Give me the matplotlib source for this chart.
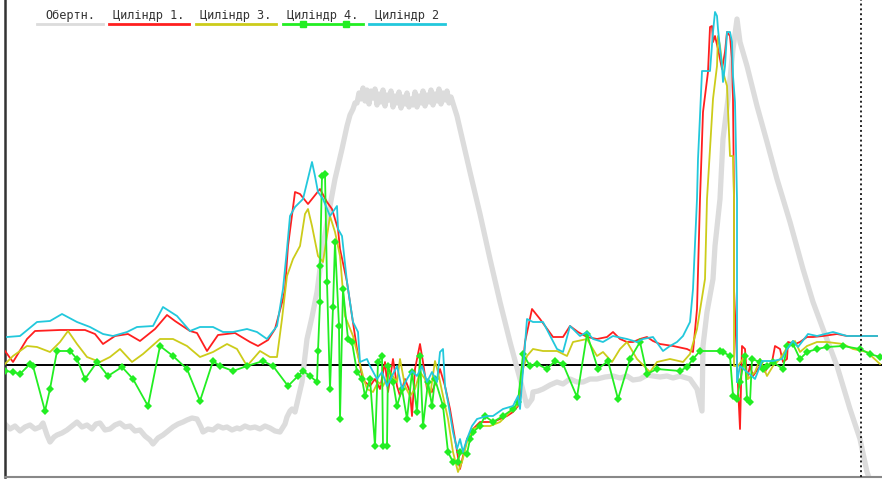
import matplotlib
matplotlib.use("Agg")
import matplotlib.pyplot as plt
from matplotlib.lines import Line2D

# engine speed trace (time sample, value)
rpm_t = [5, 10, 15, 20, 25, 30, 35, 40, 43, 47, 50, 54, 57, 62, 67, 72, 77, 82, 87, 92,
         96, 100, 105, 110, 115, 120, 125, 130, 135, 140, 145, 150, 153, 158, 163, 168, 173, 178, 183, 187,
         192, 197, 201, 203, 208, 213, 218, 223, 227, 232, 237, 240, 245, 250, 255, 260, 265, 270, 275, 280,
         285, 287, 290, 292, 295, 298, 302, 307, 312, 317, 323, 330, 335, 342, 347, 350, 353, 355,
         357, 359, 361, 363, 365, 367, 369, 371, 373, 375, 377, 379, 381, 383, 385, 387, 389, 391, 393, 395,
         397, 399, 401, 403, 405, 407, 409, 411, 413, 415, 417, 419, 421, 423, 425, 427, 429, 431, 433, 435,
         437, 439, 441, 443, 445, 447, 449, 451,
         457, 463, 470, 480, 490, 500, 510, 520, 527, 532, 533, 538, 543, 550, 557,
         563, 570, 577, 583, 590, 597, 605, 613, 620, 627, 633, 640, 647, 653, 660, 667, 673, 680, 690, 697,
         702, 703, 707, 713, 715, 720, 723, 728, 733, 737, 740, 747, 757, 767, 777, 790, 803, 813, 823, 837,
         850, 860, 867, 870]
rpm_v = [-59, -64, -61, -66, -62, -60, -64, -62, -58, -70, -77, -72, -70, -68, -65, -61, -57, -62, -60, -64,
         -59, -58, -65, -64, -60, -58, -62, -61, -66, -65, -71, -75, -79, -73, -70, -66, -62, -59, -57, -55,
         -53, -54, -62, -67, -64, -65, -61, -63, -62, -65, -63, -64, -61, -63, -62, -64, -61, -63, -66, -67,
         -59, -52, -46, -44, -47, -34, -17, 26, 48, 73, 119, 159, 186, 216, 239, 250, 256, 262,
         262, 272, 266, 277, 264, 275, 261, 274, 267, 276, 260, 271, 263, 275, 259, 270, 265, 274, 258, 269,
         262, 273, 257, 268, 261, 272, 258, 266, 260, 273, 258, 269, 262, 274, 259, 270, 263, 275, 260, 271,
         264, 276, 261, 272, 265, 274, 262, 268,
         249, 223, 193, 151, 106, 63, 23, -14, -41, -34, -27, -26, -24, -20, -17,
         -19, -14, -17, -17, -14, -14, -12, -11, -13, -11, -15, -14, -10, -11, -12, -11, -13, -11, -14, -24,
         -46, 19, 53, 86, 119, 166, 226, 266, 316, 346, 323, 299, 259, 223, 186, 143, 96, 63, 36, -1,
         -44, -74, -107, -115]

# cylinder 1
cyl1_t = [5, 13, 27, 35, 60, 85, 95, 103, 115, 128, 140, 155, 167, 175, 190, 197, 207, 218, 235, 250,
          258, 268, 275, 283, 285, 288, 295, 300, 308, 320, 327, 332, 338, 340, 347, 352, 357, 362, 365, 370,
          375, 380, 385, 388, 393, 397, 400, 405, 410, 412, 415, 420, 423, 427, 432, 437, 440, 445, 450, 455,
          460, 463, 467, 473, 480, 487, 493, 500, 507, 513, 518, 520, 525, 532, 540, 553, 563, 570, 578, 587,
          597, 607, 613, 620, 627, 633, 640, 647, 653, 660, 673, 687, 693, 697, 700, 703, 708, 710, 712, 713,
          715, 718, 722, 725, 727, 730, 732, 733, 734, 734, 738, 740, 742, 745, 747, 750, 753, 760, 765, 768,
          772, 775, 780, 783, 787, 788, 795, 800, 807, 813, 823, 837, 847, 860, 877]
cyl1_v = [14, 3, 26, 34, 35, 35, 31, 21, 29, 31, 24, 36, 50, 44, 34, 32, 14, 30, 32, 23,
          19, 25, 36, 66, 76, 119, 173, 171, 161, 176, 163, 156, 136, 116, 83, 49, 16, -11, -17, -21,
          -14, -24, 3, -27, 6, -21, -31, -14, -27, -51, -4, 21, 3, -24, -27, -14, -4, -21, -44, -74,
          -104, -91, -74, -64, -57, -57, -57, -54, -51, -47, -41, -34, 23, 56, 46, 28, 28, 39, 33, 28,
          26, 28, 33, 26, 23, 23, 26, 28, 24, 21, 19, 16, 13, 56, 166, 253, 293, 338, 339, 323,
          329, 316, 296, 313, 333, 329, 306, 266, 166, 76, -21, -64, 19, 16, -14, -1, -11, -1, -7, -1,
          3, 19, 16, 3, 6, 23, 21, 23, 28, 28, 29, 31, 29, 29, 29]

# cylinder 3
cyl3_t = [5, 13, 27, 37, 50, 60, 68, 77, 87, 100, 110, 120, 132, 143, 160, 173, 187, 200, 213, 227,
          237, 247, 260, 270, 277, 282, 287, 293, 300, 305, 308, 312, 318, 323, 327, 330, 335, 340, 345, 353,
          358, 363, 367, 373, 378, 383, 390, 397, 400, 405, 410, 415, 420, 425, 430, 435, 438, 443, 448, 453,
          458, 462, 467, 473, 480, 490, 500, 510, 517, 523, 527, 533, 543, 557, 567, 573, 587, 597, 603, 612,
          620, 627, 637, 650, 657, 670, 683, 690, 697, 705, 707, 710, 713, 717, 718, 720, 723, 727, 730, 733,
          734, 734, 738, 743, 748, 755, 760, 767, 773, 780, 788, 795, 800, 807, 817, 827, 843, 853, 867, 880]
cyl3_v = [1, 9, 19, 18, 13, 23, 34, 21, 8, 3, 8, 16, 3, 11, 26, 26, 19, 8, 13, 21,
          16, -1, 14, 8, 8, 46, 89, 106, 119, 151, 156, 139, 109, 103, 129, 149, 133, 109, 49, 29,
          9, -11, -24, -27, -17, -21, -7, -17, 6, -21, -31, -24, -7, -14, -31, 4, -7, -31, -54, -87,
          -107, -97, -77, -64, -61, -61, -57, -47, -41, -4, 9, 16, 14, 14, 9, 23, 26, 9, 13, 3,
          16, 23, 6, -7, 3, 6, 3, 11, 36, 86, 166, 216, 266, 299, 329, 319, 293, 279, 209, 209,
          166, -1, -1, 6, -14, -7, 6, -11, -1, 6, 19, 24, 13, 19, 23, 23, 21, 16, 13, 1]

# cylinder 4
cyl4_t = [5, 13, 20, 30, 33, 45, 50, 57, 70, 77, 85, 97, 108, 122, 133, 148, 160, 173, 187, 200,
          213, 220, 233, 247, 263, 273, 288, 298, 303, 310, 317, 318, 320, 320, 322, 325, 327, 330, 333, 335,
          339, 340, 343, 348, 352, 357, 362, 365, 370, 375, 378, 382, 383, 387, 388, 393, 397, 402, 407, 412,
          417, 420, 423, 428, 432, 435, 443, 448, 453, 458, 460, 467, 470, 473, 480, 485, 493, 503, 513, 518,
          523, 530, 537, 547, 555, 563, 577, 587, 598, 608, 618, 630, 640, 647, 657, 680, 687, 693, 700, 720,
          723, 730, 733, 737, 740, 745, 747, 750, 752, 760, 763, 767, 773, 783, 787, 793, 800, 807, 817, 827,
          843, 860, 870, 880]
cyl4_v = [-6, -7, -9, 1, -1, -46, -24, 14, 14, 6, -14, 3, -11, -2, -14, -41, 19, 9, -4, -36,
          4, -1, -6, -1, 4, -1, -21, -11, -6, -11, -17, 14, 63, 99, 189, 191, 83, -24, 58, 123,
          39, -54, 76, 26, 23, -7, -14, -31, -14, -81, 3, 9, -81, -81, -1, -17, -41, -24, -54, -7,
          -47, 9, -61, -17, -41, -14, -41, -87, -97, -97, -87, -89, -74, -67, -61, -51, -57, -51, -44, -37,
          11, -1, 1, -4, 4, 1, -32, 31, -4, 4, -34, 6, 23, -9, -4, -6, -2, 6, 14, 14,
          13, 9, -31, -34, -17, 9, -34, -37, 6, 3, -4, -1, 3, -4, 19, 21, 6, 13, 16, 18,
          19, 16, 11, 8]

# cylinder 2
cyl2_t = [7, 20, 37, 50, 62, 77, 90, 103, 113, 127, 137, 153, 163, 177, 190, 200, 213, 223, 233, 247,
          257, 267, 277, 283, 287, 290, 295, 303, 312, 315, 318, 323, 330, 337, 338, 342, 347, 353, 358, 360,
          367, 370, 377, 382, 387, 392, 397, 402, 407, 412, 417, 422, 427, 432, 437, 440, 443, 445, 448, 453,
          457, 460, 463, 467, 472, 477, 487, 493, 503, 513, 518, 520, 527, 533, 543, 557, 563, 570, 580, 587,
          593, 603, 613, 627, 637, 643, 653, 663, 670, 677, 683, 690, 693, 697, 698, 700, 702, 710, 713, 715,
          717, 718, 720, 722, 723, 725, 727, 730, 732, 733, 735, 737, 737, 740, 747, 755, 762, 773, 782, 787,
          793, 798, 808, 817, 833, 847, 877]
cyl2_v = [28, 29, 43, 44, 51, 43, 38, 31, 29, 33, 38, 39, 58, 49, 34, 38, 38, 33, 33, 36,
          33, 26, 39, 76, 116, 149, 158, 166, 203, 189, 173, 166, 149, 159, 136, 129, 83, 43, 33, 3,
          6, -1, -14, -7, -21, -11, -1, -24, -14, -6, -11, -1, -17, -7, -17, 13, 16, -21, -37, -67,
          -84, -74, -87, -74, -61, -54, -51, -51, -44, -41, -31, -44, 46, 43, 43, 16, 13, 39, 29, 33,
          26, 23, 29, 26, 23, 26, 28, 14, 19, 23, 29, 43, 76, 166, 206, 249, 294, 294, 333, 353,
          349, 336, 316, 299, 283, 299, 333, 333, 323, 289, 263, 166, -17, -1, -7, -14, 4, 4, 6, 16,
          24, 18, 31, 29, 33, 29, 29]

labels = ["Обертн.", "Циліндр 1.", "Циліндр 3.", "Циліндр 4.", "Циліндр 2"]
colors = ["#dcdcdc", "#ff1f1f", "#cccc1a", "#22ee22", "#22c8dc"]
marker_t = 861

W, H = 882, 481
fig = plt.figure(figsize=(W / 100, H / 100), dpi=100)
ax = fig.add_axes([5 / W, 3 / H, 877 / W, 478 / H])
ax.set_xlim(5, 882)
ax.set_ylim(-112, 366)

ax.axhline(0, color="black", lw=1.4, zorder=1)
ax.plot(rpm_t, rpm_v, color=colors[0], lw=3.8, zorder=2)
ax.plot(cyl1_t, cyl1_v, color=colors[1], lw=1.3, zorder=3)
ax.plot(cyl3_t, cyl3_v, color=colors[2], lw=1.3, zorder=4)
ax.plot(cyl4_t, cyl4_v, color=colors[3], lw=1.3, zorder=5,
        marker="D", markersize=4, markeredgewidth=0)
ax.plot(cyl2_t, cyl2_v, color=colors[4], lw=1.3, zorder=6)
ax.axvline(marker_t, color="#222222", lw=1.4, ls=(0, (1, 1.5)), zorder=7)

ax.set_xticks([])
ax.set_yticks([])
for side in ("top", "right"):
    ax.spines[side].set_visible(False)
ax.spines["left"].set_color("#333333")
ax.spines["left"].set_linewidth(1.8)
ax.spines["bottom"].set_color("#888888")
ax.spines["bottom"].set_linewidth(1.5)

# legend: caption with a coloured underline
leg_x = [(37, 103), (109, 189), (196, 276), (283, 363), (369, 445)]
for (x0, x1), lab, col in zip(leg_x, labels, colors):
    fig.text((x0 + x1) / 2 / W, 1 - 15 / H, lab, ha="center", va="center",
             family="DejaVu Sans Mono", fontsize=8.6, color="#333333")
    fig.lines.append(Line2D([x0 / W, x1 / W], [1 - 25 / H, 1 - 25 / H],
                            transform=fig.transFigure, color=col, lw=2))
fig.lines.append(Line2D([303 / W, 346 / W], [1 - 25 / H, 1 - 25 / H], transform=fig.transFigure,
                        color=colors[3], lw=0, marker="s", markersize=4))

fig.savefig("out.png", dpi=100)
